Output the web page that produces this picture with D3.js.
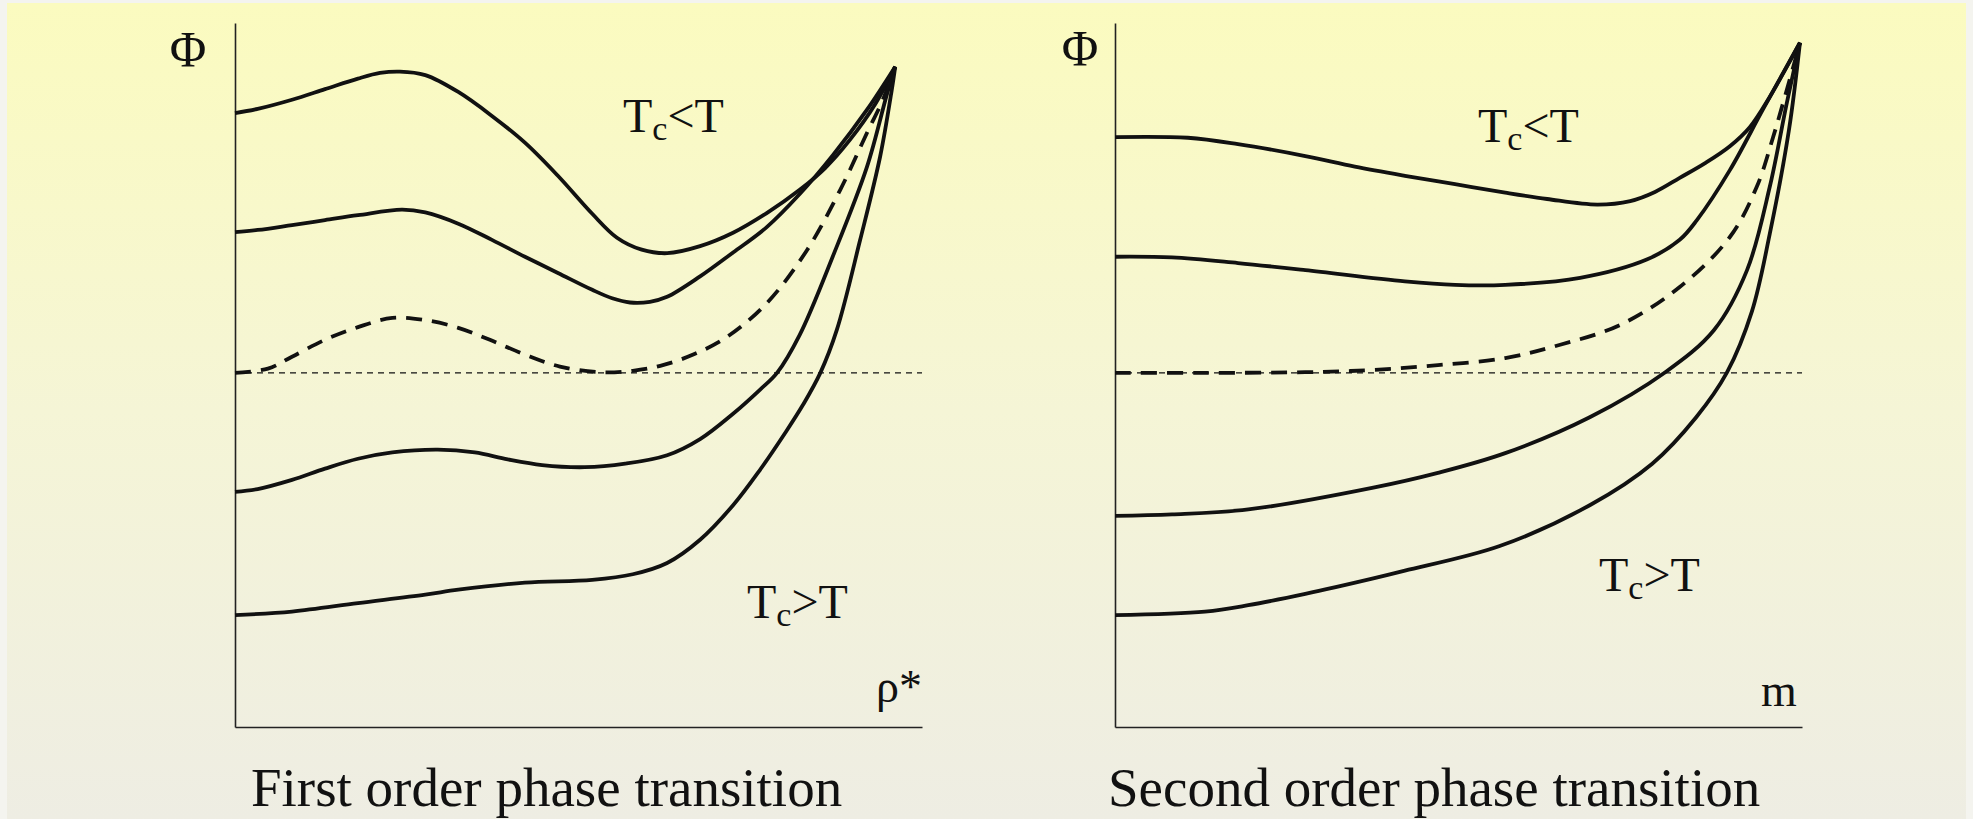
<!DOCTYPE html>
<html>
<head>
<meta charset="utf-8">
<script src="https://cdn.jsdelivr.net/npm/d3@7/dist/d3.min.js"></script>
<style>
  html, body { margin: 0; padding: 0; background: #f4f4ef; }
  svg { display: block; }
  text { font-family: "Liberation Serif", "DejaVu Serif", serif; fill: #111; }
</style>
</head>
<body>
<svg id="chart" width="1973" height="819"></svg>
<script>
// ---------- Data (x: order parameter 0..100, Φ: free energy, 0 = reference level) ----------
// First order phase transition (ρ*)
const lx1 = [0,3.3,8.3,13.1,17.9,21.1,24.0,27.7,32.5,37.4,42.2,47.0,52.0,55.6,59.2,62.9,67.7,72.5,77.4,82.2,85.9,89.5,93.2,96.1];
const lp1 = [36.9,37.5,38.8,40.3,41.8,42.6,42.8,42.3,39.9,36.5,32.7,28.0,22.6,19.2,17.5,17.0,18.0,19.9,22.7,26.0,29.1,33.1,38.2,43.5];
const lx2 = [0,3.3,8.3,13.1,17.9,24.3,27.7,32.5,37.4,42.2,47.0,52.0,54.9,57.5,60.4,62.9,67.7,72.5,77.4,82.2,87.0,92.0,96.1];
const lp2 = [20.0,20.3,21.0,21.7,22.4,23.2,22.8,21.2,18.9,16.5,14.2,11.8,10.6,10.0,10.1,10.8,13.7,17.1,20.7,25.4,30.9,37.4,43.5];
const lx3 = [0,4.8,8.3,13.1,17.9,22.9,27.7,32.5,37.1,42.2,47.3,53.1,57.9,61.9,66.7,71.6,77.4,83.3,88.1,92.0,94.3,96.1];
const lp3 = [0,0.6,2.3,4.7,6.5,7.8,7.5,6.4,4.7,2.6,0.9,0.1,0.3,1.0,2.6,5.1,9.9,17.5,26.0,34.1,38.8,43.5];
const lx4 = [0,3.3,8.3,13.1,17.9,22.9,29.5,34.9,39.7,44.7,50.9,56.8,62.9,67.7,72.5,76.4,78.9,82.2,87.0,92.0,94.9,96.1];
const lp4 = [-16.9,-16.5,-15.2,-13.6,-12.2,-11.3,-10.9,-11.3,-12.3,-13.1,-13.4,-12.9,-11.7,-9.4,-5.8,-2.4,0,5.4,16.5,29.3,39.6,43.5];
const lx5 = [0,8.3,17.9,27.7,32.5,42.2,52.0,57.9,62.9,67.7,72.5,76.4,80.1,82.7,85.2,87.6,91.0,93.9,95.6,96.1];
const lp5 = [-34.4,-33.9,-32.7,-31.5,-30.8,-29.8,-29.4,-28.6,-27.0,-23.7,-18.8,-13.8,-8.5,-4.5,0,6.1,18.9,30.7,40.2,43.5];

// Second order phase transition (m)
const rx1 = [0,10.6,17.9,27.7,34.9,42.2,49.5,56.8,62.9,70.2,75.0,78.6,82.2,85.9,89.5,92.4,95.3,99.7];
const rp1 = [33.5,33.4,32.5,30.8,29.3,28.0,26.8,25.6,24.7,23.9,24.4,25.7,27.7,29.8,32.2,34.9,39.2,46.9];
const rx2 = [0,8.3,17.9,27.7,42.2,49.5,56.8,67.7,77.4,82.2,84.7,89.5,94.3,99.7];
const rp2 = [16.5,16.4,15.6,14.6,13.0,12.5,12.5,13.5,16.1,18.9,21.7,28.8,37.4,46.9];
const rx3 = [0,12.4,27.7,37.4,47.0,56.8,64.8,73.5,82.2,89.5,93.4,95.8,99.7];
const rp3 = [0,0,0.1,0.4,1.1,2.1,4.0,6.8,12.2,19.3,26.4,33.5,46.9];
const rx4 = [0,8.3,19.4,37.6,47.0,56.8,69.1,80.1,87.2,92.0,95.3,97.8,99.7];
const rp4 = [-20.3,-20.1,-19.4,-16.3,-14.2,-11.4,-6.3,0.1,6.1,14.6,26.4,38.4,46.9];
const rx5 = [0,13.1,19.4,27.7,37.6,42.2,56.0,69.1,78.2,84.6,89.1,92.7,95.3,98.1,99.7];
const rp5 = [-34.4,-33.9,-33.0,-31.4,-29.2,-28.1,-24.6,-18.8,-12.9,-6.3,0.1,8.7,19.7,34.5,46.9];

const xDomain = [0, 100];
const phiDomain = [-50.3, 49.7];
const dashedIndex = 2;

const panelTitles = ["First order phase transition", "Second order phase transition"];
const axisLabels = ["ρ*", "m"];
const yLabel = "Φ";

// ---------- Drawing ----------
const svg = d3.select("#chart");
const defs = svg.append("defs");
const grad = defs.append("linearGradient").attr("id", "bg")
  .attr("x1", 0).attr("y1", 0).attr("x2", 0).attr("y2", 1);
grad.append("stop").attr("offset", "0%").attr("stop-color", "#fbfbbf");
grad.append("stop").attr("offset", "50%").attr("stop-color", "#f5f5d6");
grad.append("stop").attr("offset", "100%").attr("stop-color", "#eeede3");
svg.append("rect").attr("x", 7).attr("y", 3).attr("width", 1959).attr("height", 816)
  .attr("fill", "url(#bg)");

const y = d3.scaleLinear().domain(phiDomain).range([727, 23]);

const panels = [
  { x0: 235, xs: [lx1, lx2, lx3, lx4, lx5], ps: [lp1, lp2, lp3, lp4, lp5],
    title: panelTitles[0], tx: 251, label: axisLabels[0], lx: 876, ly: 702,
    phiX: 188, phiY: 66, lt: [623, 132], gt: [747, 618] },
  { x0: 1115, xs: [rx1, rx2, rx3, rx4, rx5], ps: [rp1, rp2, rp3, rp4, rp5],
    title: panelTitles[1], tx: 1108, label: axisLabels[1], lx: 1761, ly: 706,
    phiX: 1080, phiY: 65, lt: [1478, 142], gt: [1599, 591] }
];

function tLabel(g, pos, sym) {
  const t = g.append("text").attr("x", pos[0]).attr("y", pos[1]).attr("font-size", 48);
  t.append("tspan").text("T");
  t.append("tspan").attr("dy", 8).attr("font-size", 34).text("c");
  t.append("tspan").attr("dy", -8).text(sym + "T");
}

panels.forEach(p => {
  const x = d3.scaleLinear().domain(xDomain).range([p.x0, p.x0 + 687]);
  const g = svg.append("g");

  // axes (lines only)
  g.append("g").attr("transform", `translate(0,${y(phiDomain[0])})`)
    .call(d3.axisBottom(x).tickValues([]).tickSizeOuter(0));
  g.append("g").attr("transform", `translate(${x(0)},0)`)
    .call(d3.axisLeft(y).tickValues([]).tickSizeOuter(0));
  g.selectAll(".domain").attr("stroke", "#222").attr("stroke-width", 1.6);

  // reference level
  g.append("path")
    .attr("d", d3.line().x(d => x(d)).y(() => y(0))(xDomain))
    .attr("fill", "none").attr("stroke", "#111").attr("stroke-width", 1.2)
    .attr("stroke-dasharray", "6,5");

  const line = d3.line().x(d => x(d[0])).y(d => y(d[1]))
    .curve(d3.curveCatmullRom.alpha(0.5));
  p.xs.forEach((xs, i) => {
    const pts = xs.map((v, j) => [v, p.ps[i][j]]);
    g.append("path").attr("d", line(pts))
      .attr("fill", "none").attr("stroke", "#111").attr("stroke-width", 3.8)
      .attr("stroke-linejoin", "round")
      .attr("stroke-dasharray", i === dashedIndex ? "16,10" : null);
  });

  g.append("text").attr("x", p.phiX).attr("y", p.phiY).attr("text-anchor", "middle")
    .attr("font-size", 50).text(yLabel);
  g.append("text").attr("x", p.lx).attr("y", p.ly).attr("font-size", 46).text(p.label);
  tLabel(g, p.lt, "<");
  tLabel(g, p.gt, ">");
  g.append("text").attr("x", p.tx).attr("y", 806).attr("font-size", 55).text(p.title);
});
</script>
</body>
</html>
